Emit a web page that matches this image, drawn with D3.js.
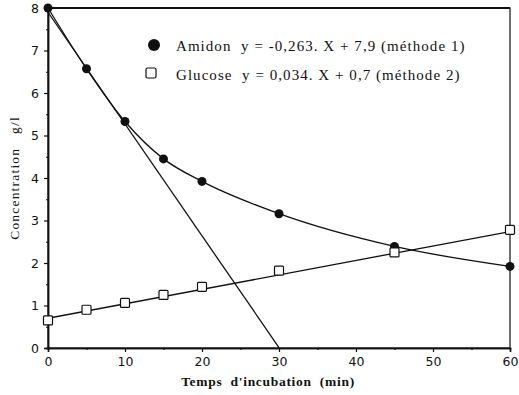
<!DOCTYPE html>
<html>
<head>
<meta charset="utf-8">
<script src="https://cdn.jsdelivr.net/npm/d3@7/dist/d3.min.js"></script>
<style>
  html, body { margin: 0; padding: 0; background: #fff; }
  svg { display: block; }
</style>
</head>
<body>
<svg id="chart" width="519" height="395"></svg>
<script>
// Incubation times (min)
const temps = [0, 5, 10, 15, 20, 30, 45, 60];
// Measured concentrations (g/l)
const amidon = [8.0, 6.57, 5.33, 4.45, 3.92, 3.16, 2.39, 1.92];
const glucose = [0.65, 0.9, 1.06, 1.25, 1.44, 1.82, 2.25, 2.78];
// Linear fits y = a.X + b
const fitAmidon = { a: -0.263, b: 7.9, x0: 0, x1: 30 };
const fitGlucose = { a: 0.034, b: 0.7, x0: 0, x1: 60 };
// Axis ticks
const xTicks = [0, 10, 20, 30, 40, 50, 60];
const yTicks = [0, 1, 2, 3, 4, 5, 6, 7, 8];
const legendLabels = [
  "Amidon  y = -0,263. X + 7,9 (méthode 1)",
  "Glucose  y = 0,034. X + 0,7 (méthode 2)"
];

const svg = d3.select("#chart");
const L = 48, R = 510, T = 8, B = 348;
const x = d3.scaleLinear().domain([0, 60]).range([L, R]);
const y = d3.scaleLinear().domain([0, 8]).range([B, T]);
const ink = "#111";

// Frame
svg.append("rect").attr("x", L).attr("y", T).attr("width", R - L).attr("height", B - T)
  .attr("fill", "none").attr("stroke", ink).attr("stroke-width", 1.2);
svg.append("line").attr("x1", L).attr("x2", R).attr("y1", T).attr("y2", T)
  .attr("stroke", ink).attr("stroke-width", 2);

// Axes
const xAxis = svg.append("g").attr("transform", `translate(0,${B})`)
  .call(d3.axisBottom(x).tickValues(xTicks).tickSize(4).tickPadding(5).tickFormat(d3.format("d")));
const xMinor = svg.append("g").attr("transform", `translate(0,${B})`)
  .call(d3.axisBottom(x).tickValues([5, 15, 25, 35, 45, 55]).tickSize(2).tickFormat(""));
const yAxis = svg.append("g").attr("transform", `translate(${L},0)`)
  .call(d3.axisLeft(y).tickValues(yTicks).tickSize(4).tickPadding(5).tickFormat(d3.format("d")));
const yMinor = svg.append("g").attr("transform", `translate(${L},0)`)
  .call(d3.axisLeft(y).tickValues(d3.range(0.5, 8, 1)).tickSize(2).tickFormat(""));
[xAxis, xMinor, yAxis, yMinor].forEach(g => {
  g.select(".domain").attr("stroke", ink).attr("stroke-width", 1.5);
  g.selectAll(".tick line").attr("stroke", ink).attr("stroke-width", 1.2);
  g.selectAll("text").attr("fill", ink)
    .style("font-family", "'DejaVu Sans', sans-serif").style("font-size", "12.5px");
});

// Regression lines
[fitAmidon, fitGlucose].forEach(f => {
  svg.append("line")
    .attr("x1", x(f.x0)).attr("y1", y(f.a * f.x0 + f.b))
    .attr("x2", x(f.x1)).attr("y2", y(f.a * f.x1 + f.b))
    .attr("stroke", ink).attr("stroke-width", 1.3);
});

// Amidon smoothed curve through points
const pts = temps.map((t, i) => [t, amidon[i]]);
svg.append("path")
  .attr("d", d3.line().x(d => x(d[0])).y(d => y(d[1])).curve(d3.curveMonotoneX)(pts))
  .attr("fill", "none").attr("stroke", ink).attr("stroke-width", 1.3);

// Markers
svg.selectAll("circle.amidon").data(pts).join("circle")
  .attr("class", "amidon")
  .attr("cx", d => x(d[0])).attr("cy", d => y(d[1])).attr("r", 4.5).attr("fill", ink);
svg.selectAll("rect.glucose").data(temps.map((t, i) => [t, glucose[i]])).join("rect")
  .attr("class", "glucose")
  .attr("x", d => x(d[0]) - 4.5).attr("y", d => y(d[1]) - 4.5)
  .attr("width", 9).attr("height", 9).attr("rx", 1)
  .attr("fill", "#fff").attr("stroke", ink).attr("stroke-width", 1.2);

// Legend
const legend = svg.append("g");
legend.append("circle").attr("cx", 154).attr("cy", 45).attr("r", 6).attr("fill", ink);
legend.append("rect").attr("x", 146).attr("y", 68).attr("width", 10).attr("height", 10).attr("rx", 1.5)
  .attr("fill", "#fff").attr("stroke", ink).attr("stroke-width", 1.2);
legend.selectAll("text").data(legendLabels).join("text")
  .attr("x", 176).attr("y", (d, i) => 51 + i * 29)
  .attr("xml:space", "preserve")
  .style("font-family", "'Liberation Serif', serif").style("font-size", "15px")
  .style("letter-spacing", "1.05px")
  .attr("fill", ink).text(d => d);

// Axis titles
svg.append("text").attr("x", 268).attr("y", 386).attr("text-anchor", "middle")
  .attr("xml:space", "preserve")
  .style("font-family", "'Liberation Serif', serif").style("font-size", "13.5px")
  .style("font-weight", "bold").style("letter-spacing", "0.7px").attr("fill", ink)
  .text("Temps  d'incubation  (min)");
svg.append("text").attr("transform", "translate(19,178) rotate(-90)").attr("text-anchor", "middle")
  .attr("xml:space", "preserve")
  .style("font-family", "'Liberation Serif', serif").style("font-size", "13.5px")
  .style("letter-spacing", "1.2px").attr("fill", ink)
  .text("Concentration   g/l");
</script>
</body>
</html>
